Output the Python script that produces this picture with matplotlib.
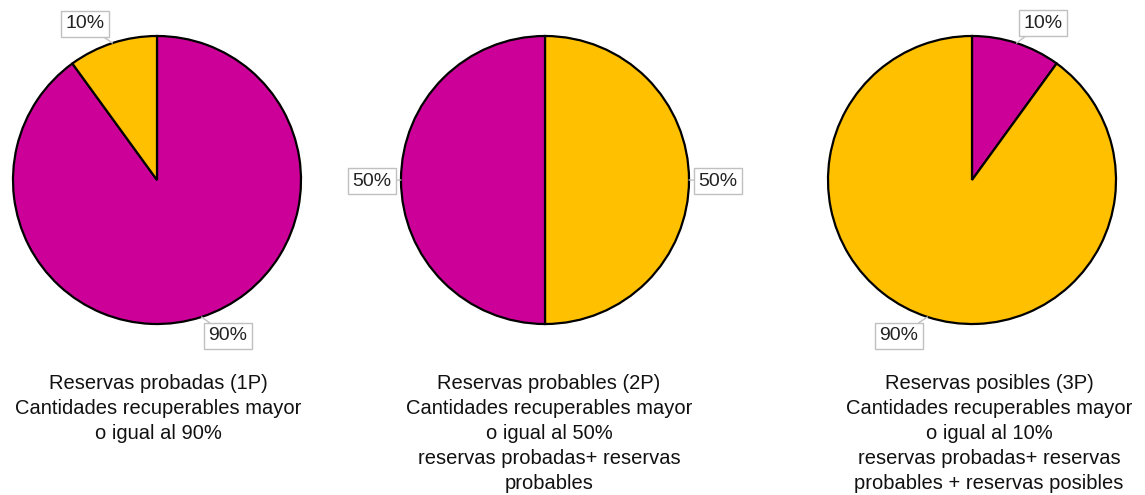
import matplotlib.pyplot as plt
import numpy as np

plt.rcParams["font.family"] = ["Liberation Sans", "DejaVu Sans"]

MAGENTA = "#CC0099"
YELLOW = "#FFC000"

# one pie per reserve class, slices listed clockwise from 12 o'clock
pie_values = [[90, 10], [50, 50], [10, 90]]
pie_colors = [[MAGENTA, YELLOW], [YELLOW, MAGENTA], [MAGENTA, YELLOW]]
pie_labels = [["90%", "10%"], ["50%", "50%"], ["10%", "90%"]]
captions = [
    "Reservas probadas (1P)\nCantidades recuperables mayor\no igual al 90%",
    "Reservas probables (2P)\nCantidades recuperables mayor\no igual al 50%\nreservas probadas+ reservas\nprobables",
    "Reservas posibles (3P)\nCantidades recuperables mayor\no igual al 10%\nreservas probadas+ reservas\nprobables + reservas posibles",
]

# layout in pixel units (y measured from the top of the image)
W, H = 1145, 495
centers = [(157, 180), (545, 180), (972, 180)]
radius = 144
label_pos = [[(228, 336), (85, 24)], [(718, 181), (372, 181)], [(1043, 23), (899, 336)]]
caption_x = [158, 549, 989]
caption_top = 374

fig = plt.figure(figsize=(W / 100, H / 100), dpi=100)
ax = fig.add_axes([0, 0, 1, 1])

for i, vals in enumerate(pie_values):
    cx, cy = centers[i]
    wedges, _ = ax.pie(
        vals,
        colors=pie_colors[i],
        startangle=90,
        counterclock=False,
        center=(cx, H - cy),
        radius=radius,
        wedgeprops=dict(edgecolor="black", linewidth=1.6),
    )
    for w, lab, (lx, ly) in zip(wedges, pie_labels[i], label_pos[i]):
        mid = np.deg2rad((w.theta1 + w.theta2) / 2)
        px = cx + radius * np.cos(mid)
        py = H - cy + radius * np.sin(mid)
        ax.annotate(
            lab,
            xy=(px, py),
            xytext=(lx, H - ly),
            ha="center",
            va="center",
            fontsize=14,
            color="#222222",
            bbox=dict(boxstyle="square,pad=0.22", fc="white", ec="#c0c0c0", lw=1),
            arrowprops=dict(arrowstyle="-", color="#c0c0c0", lw=1, shrinkA=0, shrinkB=0),
        )
    ax.text(
        caption_x[i],
        H - caption_top,
        captions[i],
        ha="center",
        va="top",
        fontsize=14.5,
        linespacing=1.4,
        color="#111111",
    )

ax.set_xlim(0, W)
ax.set_ylim(0, H)
ax.set_aspect("equal")
ax.axis("off")

fig.savefig("out.png", dpi=100)
